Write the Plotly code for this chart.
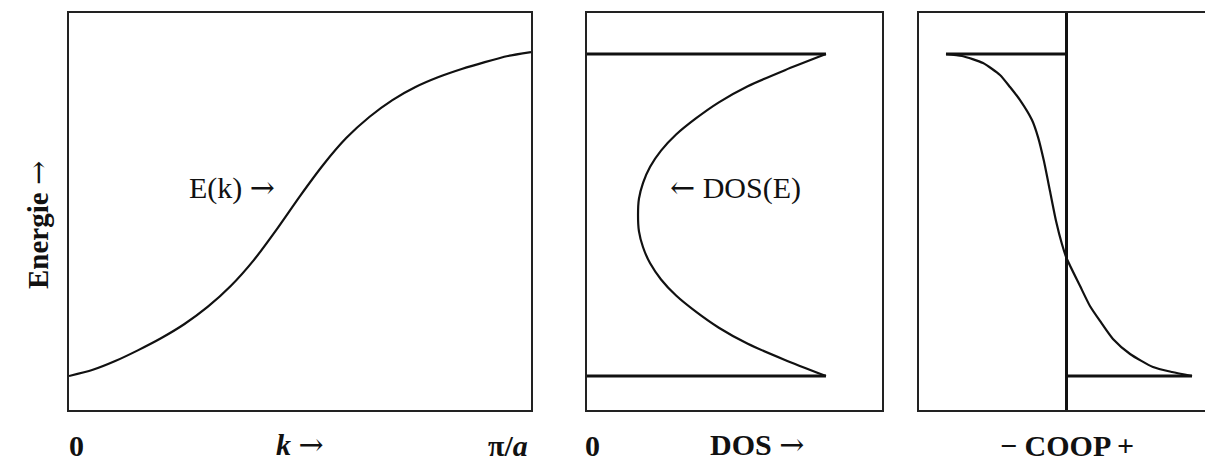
import plotly.graph_objects as go

W, H = 1205, 461

# ---- band structure E(k); k in units of pi/a, energy in units of the half band width
k_vals = [0.0, 0.05, 0.10, 0.15, 0.20, 0.25, 0.30, 0.35, 0.40, 0.45, 0.50,
          0.55, 0.60, 0.65, 0.70, 0.75, 0.80, 0.85, 0.90, 0.95, 1.0]
E_of_k = [-1.0, -0.963, -0.907, -0.839, -0.764, -0.677, -0.571, -0.441, -0.280,
          -0.087, 0.118, 0.311, 0.478, 0.609, 0.714, 0.795, 0.857, 0.907, 0.950,
          0.988, 1.012]

# ---- density of states
E_dos = [-1.0, -0.9, -0.8, -0.7, -0.6, -0.5, -0.4, -0.3, -0.2, -0.1, 0.0,
         0.1, 0.2, 0.3, 0.4, 0.5, 0.6, 0.7, 0.8, 0.9, 1.0]
dos = [0.81, 0.671, 0.545, 0.447, 0.369, 0.302, 0.251, 0.214, 0.190, 0.176, 0.173,
       0.176, 0.190, 0.214, 0.251, 0.302, 0.369, 0.447, 0.545, 0.671, 0.81]

# ---- crystal orbital overlap population
E_coop = [1.0, 0.988, 0.944, 0.870, 0.795, 0.714, 0.590, 0.484, 0.335, 0.149, -0.037,
          -0.180, -0.267, -0.441, -0.565, -0.658, -0.770, -0.863, -0.944, -0.975, -1.0]
coop = [-0.817, -0.708, -0.566, -0.451, -0.383, -0.315, -0.234, -0.193, -0.153, -0.112,
        -0.071, -0.031, 0.0, 0.092, 0.159, 0.227, 0.315, 0.431, 0.586, 0.715, 0.851]

# band edges
E_top, E_bottom = 1.0, -1.0

E_range = [-1.211, 1.255]
LINE = "#111111"
FRAME = "#222222"
SERIF = "Liberation Serif, Times New Roman, serif"
THIN = "font-family:'DejaVu Serif';font-weight:normal"
ARROW_R = f"<span style=\"{THIN}\">→</span>"
ARROW_L = f"<span style=\"{THIN}\">←</span>"


def px_x(p):
    return p / W


def px_y(p):
    return 1 - p / H


fig = go.Figure()
curve = dict(color=LINE, width=2.2, shape="spline", smoothing=0.6)
edge = dict(color=LINE, width=3)

# E(k)
fig.add_trace(go.Scatter(x=k_vals, y=E_of_k, mode="lines", xaxis="x", yaxis="y", line=curve))

# DOS(E) with band-edge lines
fig.add_trace(go.Scatter(x=dos, y=E_dos, mode="lines", xaxis="x2", yaxis="y2", line=curve))
fig.add_trace(go.Scatter(x=[0, dos[-1]], y=[E_top, E_top], mode="lines",
                         xaxis="x2", yaxis="y2", line=edge))
fig.add_trace(go.Scatter(x=[0, dos[0]], y=[E_bottom, E_bottom], mode="lines",
                         xaxis="x2", yaxis="y2", line=edge))

# COOP(E) with band-edge lines
fig.add_trace(go.Scatter(x=coop, y=E_coop, mode="lines", xaxis="x3", yaxis="y3", line=curve))
fig.add_trace(go.Scatter(x=[coop[0], 0], y=[E_top, E_top], mode="lines",
                         xaxis="x3", yaxis="y3", line=edge))
fig.add_trace(go.Scatter(x=[0, coop[-1]], y=[E_bottom, E_bottom], mode="lines",
                         xaxis="x3", yaxis="y3", line=edge))

ydom = [px_y(410), px_y(13)]
frame = dict(showline=True, linecolor=FRAME, linewidth=2, showgrid=False,
             showticklabels=False, ticks="", zeroline=False, fixedrange=True)

fig.update_layout(
    width=W, height=H,
    margin=dict(l=0, r=0, t=0, b=0),
    paper_bgcolor="white", plot_bgcolor="white",
    showlegend=False,
    xaxis=dict(domain=[px_x(69), px_x(531)], range=[0, 1], anchor="y", mirror=True, **frame),
    yaxis=dict(domain=ydom, range=E_range, anchor="x", mirror=True, **frame),
    xaxis2=dict(domain=[px_x(587), px_x(882)], range=[0, 1], anchor="y2", mirror=True, **frame),
    yaxis2=dict(domain=ydom, range=E_range, anchor="x2", mirror=True, **frame),
    xaxis3=dict(domain=[px_x(919), 1.0], range=[-1.0, (W - 1066.5) / 147.5], anchor="y3",
                mirror=True, **{**frame, "zeroline": True},
                zerolinecolor=LINE, zerolinewidth=3),
    yaxis3=dict(domain=ydom, range=E_range, anchor="x3", mirror=False, **frame),
)

bold = dict(family=SERIF, size=30, color="#111111")
regular = dict(family=SERIF, size=30, color="#111111")
bottom = dict(y=0.0, yref="paper", yanchor="bottom", yshift=-3, font=bold)
annotations = [
    dict(text="<b>0</b>", x=0.017, xref="x", **bottom),
    dict(text=f"<b><i>k</i> {ARROW_R}</b>", x=0.5, xref="x", **bottom),
    dict(text="<b>π/<i>a</i></b>", x=0.997, xref="x", xanchor="right", **bottom),
    dict(text="<b>0</b>", x=0.02, xref="x2", **bottom),
    dict(text=f"<b>DOS {ARROW_R}</b>", x=0.576, xref="x2", **bottom),
    dict(text="<b>− COOP +</b>", x=0.0, xref="x3", **bottom),
    dict(text=f"<b>Energie {ARROW_R}</b>", x=px_x(38), y=px_y(225), xref="paper", yref="paper",
         textangle=-90, font=dict(family=SERIF, size=29, color="#111111")),
    dict(text=f"E(k) {ARROW_R}", x=0.353, y=0.168, xref="x", yref="y", font=regular),
    dict(text=f"{ARROW_L} DOS(E)", x=0.502, y=0.168, xref="x2", yref="y2", font=regular),
]
for a in annotations:
    a.setdefault("showarrow", False)
    a.setdefault("xanchor", "center")
    a.setdefault("yanchor", "middle")
fig.update_layout(annotations=annotations)

fig.write_html("out.html")
